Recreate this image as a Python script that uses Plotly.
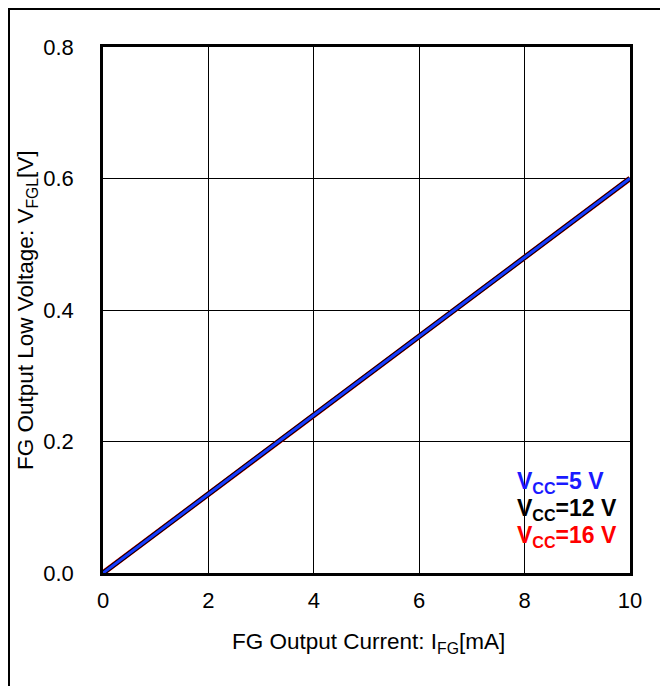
import plotly.graph_objects as go

# Data
current_ma = [0, 2, 4, 6, 8, 10]
vfgl_5v = [0, 0.12, 0.24, 0.36, 0.48, 0.60]
vfgl_12v = [0, 0.12, 0.24, 0.36, 0.48, 0.60]
vfgl_16v = [0, 0.12, 0.24, 0.36, 0.48, 0.60]
series_names = ["V<sub>CC</sub>=16 V", "V<sub>CC</sub>=12 V", "V<sub>CC</sub>=5 V"]
x_ticks = [0, 2, 4, 6, 8, 10]
y_ticks = [0.0, 0.2, 0.4, 0.6, 0.8]

FONT = "Liberation Sans, Arial, sans-serif"
FS = 22

L, R, T, B = 95, 38, 39, 113
W, H = 660, 678
PW, PH = W - L - R, H - T - B

fig = go.Figure()
fig.add_trace(go.Scatter(x=current_ma, y=vfgl_16v, mode="lines", name=series_names[0],
                         line=dict(color="#ff0000", width=5.5)))
fig.add_trace(go.Scatter(x=current_ma, y=vfgl_12v, mode="lines", name=series_names[1],
                         line=dict(color="#000000", width=5)))
fig.add_trace(go.Scatter(x=current_ma, y=vfgl_5v, mode="lines", name=series_names[2],
                         line=dict(color="#1a3cff", width=3)))

fig.update_layout(
    width=W, height=H,
    margin=dict(l=L, r=R, t=T, b=B),
    paper_bgcolor="white", plot_bgcolor="white",
    showlegend=False,
    font=dict(family=FONT, size=FS, color="black"),
)
fig.update_xaxes(
    range=[0, 10], tickvals=x_ticks, ticktext=[str(v) for v in x_ticks],
    showgrid=True, gridcolor="black", gridwidth=1,
    showline=True, linecolor="black", linewidth=2.5, mirror=True,
    zeroline=False, ticks="", ticklabelstandoff=6,
    tickfont=dict(family=FONT, size=FS),
)
fig.update_yaxes(
    range=[0, 0.8], tickvals=y_ticks, ticktext=[f"{v:.1f}" for v in y_ticks],
    showgrid=True, gridcolor="black", gridwidth=1,
    showline=True, linecolor="black", linewidth=2.5, mirror=True,
    zeroline=False, ticks="", ticklabelstandoff=22,
    tickfont=dict(family=FONT, size=FS),
)

# axis titles
fig.add_annotation(text="FG Output Current: I<sub>FG</sub>[mA]", xref="paper", yref="paper",
                   x=(368 - 8 - L) / PW, y=-0.133, xanchor="center", yanchor="middle", showarrow=False,
                   font=dict(family=FONT, size=22.5))
fig.add_annotation(text="FG Output Low Voltage: V<sub>FGL</sub>[V]", xref="paper", yref="paper",
                   x=(27 - 8 - L) / PW, y=0.5, xanchor="center", yanchor="middle", showarrow=False,
                   textangle=-90, font=dict(family=FONT, size=22.5))

# legend labels
leg_colors = ["#1a1aff", "#000000", "#ff0000"]
leg_text = [series_names[2], series_names[1], series_names[0]]
leg_y = [0.138, 0.097, 0.056]
for t, c, yv in zip(leg_text, leg_colors, leg_y):
    fig.add_annotation(text=f"<b>{t}</b>", x=7.82, y=yv, xref="x", yref="y",
                       xanchor="left", yanchor="middle", showarrow=False,
                       font=dict(family=FONT, size=23, color=c))

# outer border
fig.add_shape(type="rect", xref="paper", yref="paper",
              x0=(1 - L) / PW, x1=1.3, y0=-0.4, y1=1 + (T - 1) / PH,
              line=dict(color="black", width=2), layer="below")

fig.write_html("out.html")
